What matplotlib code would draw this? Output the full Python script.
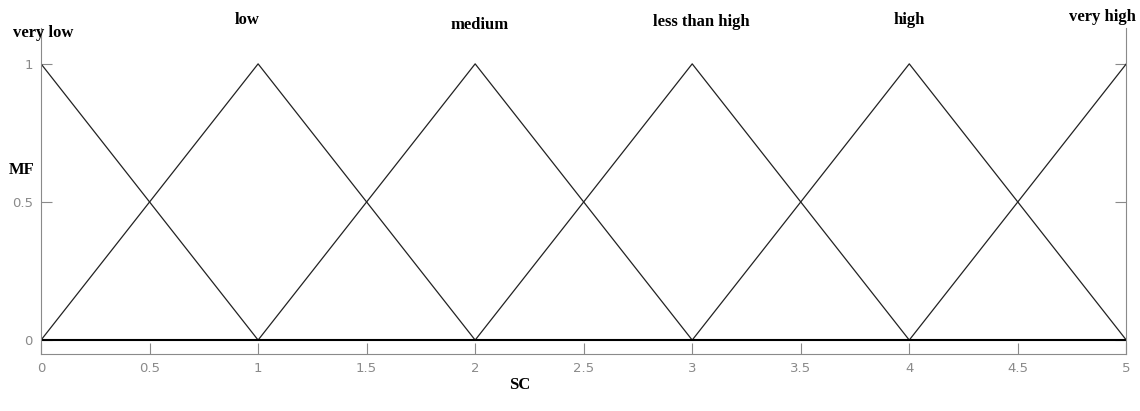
import matplotlib
matplotlib.use("Agg")
import matplotlib.pyplot as plt

# membership function breakpoints (x) and grades (y)
mf_names = ["very low", "low", "medium", "less than high", "high", "very high"]
mf_x = [[0, 1], [0, 1, 2], [1, 2, 3], [2, 3, 4], [3, 4, 5], [4, 5]]
mf_y = [[1, 0], [0, 1, 0], [0, 1, 0], [0, 1, 0], [0, 1, 0], [0, 1]]

# label anchor positions (data coords)
label_x = [0.01, 0.95, 2.02, 3.04, 4.0, 4.89]
label_y = [1.11, 1.16, 1.14, 1.15, 1.16, 1.17]

xticks = [0, 0.5, 1, 1.5, 2, 2.5, 3, 3.5, 4, 4.5, 5]
yticks = [0, 0.5, 1]

gray = "#8a8a8a"

fig = plt.figure(figsize=(11.4, 4.11), dpi=100)
ax = fig.add_axes([0.036, 0.139, 0.952, 0.793])

for xs, ys in zip(mf_x, mf_y):
    ax.plot(xs, ys, color="#222222", lw=0.9)
ax.axhline(0, color="black", lw=1.5)

for name, lx, ly in zip(mf_names, label_x, label_y):
    ax.text(lx, ly, name, ha="center", va="center", family="Liberation Serif",
            fontweight="bold", fontsize=12, clip_on=False)

ax.set_xlim(0, 5)
ax.set_ylim(-0.05, 1.13)
ax.set_xticks(xticks)
ax.set_xticklabels(["0", "0.5", "1", "1.5", "2", "2.5", "3", "3.5", "4", "4.5", "5"])
ax.set_yticks(yticks)
ax.set_yticklabels(["0", "0.5", "1"])
ax.tick_params(direction="in", length=8, color=gray, labelcolor=gray,
               labelsize=9.5, right=True, top=False, pad=6)

for side in ["left", "right", "bottom"]:
    ax.spines[side].set_color(gray)
ax.spines["top"].set_visible(False)

fig.text(22 / 1140, 1 - 170 / 411, "MF", ha="center", va="center",
         family="Liberation Serif", fontweight="bold", fontsize=12)
fig.text(520 / 1140, 1 - 385 / 411, "SC", ha="center", va="center",
         family="Liberation Serif", fontweight="bold", fontsize=12)

fig.savefig("out.png", dpi=100)
